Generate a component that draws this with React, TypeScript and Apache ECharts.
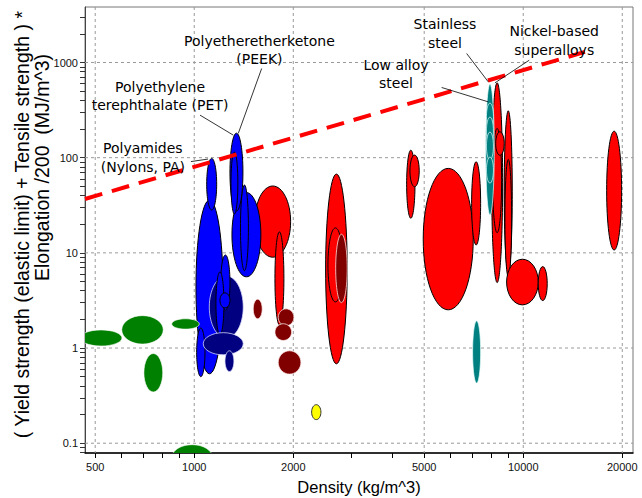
import React, { useEffect, useRef } from "react";
import * as echarts from "echarts";

// ---- Axis ranges and ticks (density kg/m^3, energy MJ/m^3) ----
const X_RANGE = [465.5, 21560];
const Y_RANGE = [0.0789, 3830];
const X_MAJOR = [500, 1000, 2000, 5000, 10000, 20000];
const X_MINOR = [600, 700, 800, 900, 3000, 4000, 6000, 7000, 8000, 9000];
const Y_MAJOR = [0.1, 1, 10, 100, 1000];
const Y_MINOR = [
  0.08, 0.09, 0.2, 0.3, 0.4, 0.5, 0.6, 0.7, 0.8, 0.9,
  2, 3, 4, 5, 6, 7, 8, 9, 20, 30, 40, 50, 60, 70, 80, 90,
  200, 300, 400, 500, 600, 700, 800, 900, 2000, 3000,
];

// ---- Material envelopes: [densityLo, densityHi, valueLo, valueHi] ----
const METALS_RED = [
  [1529, 1963, 9.0, 50.4],
  [1759, 1873, 1.75, 16.6],
  [2508, 2917, 0.683, 67.3],
  [2549, 2831, 3.05, 18.3],
  [4422, 4688, 23.1, 120],
  [4525, 4829, 49.5, 106.5],
  [4966, 7047, 2.52, 77.2],
  [6968, 7422, 12.1, 90.6],
  [8017, 8657, 4.87, 611],
  [8072, 8596, 16.3, 203],
  [8753, 9261, 6.35, 311],
  [8797, 9220, 5.63, 96],
  [8245, 8753, 106, 187],
  [8901, 11108, 2.84, 8.57],
  [11108, 11828, 3.15, 7.17],
  [17930, 19910, 10.7, 190],
];
const DARK_RED = [
  [1511, 1609, 2.03, 3.26],
  [1800, 2009, 1.71, 2.58],
  [1759, 1977, 1.2, 1.8],
  [1800, 2110, 0.532, 0.935],
  [2691, 2917, 3.0, 15.7],
];
const POLYMERS_BLUE = [
  [1012, 1223, 0.536, 35.9],
  [1091, 1170, 28.2, 98.3],
  [1017, 1078, 0.5, 1.62],
  [1302, 1594, 5.6, 43],
  [1382, 1461, 6.5, 51.6],
  [1284, 1406, 27.5, 181],
  [1293, 1357, 25.6, 114.5],
];
const NAVY_LARGE = [[1111, 1409, 1.27, 5.72]];
const POLYMERS_BLUE_SMALL = [
  [1204, 1284, 2.5, 9.5],
  [1164, 1231, 1.375, 6.3],
  [1197, 1284, 2.64, 3.8],
];
const NAVY_SMALL = [
  [1065, 1409, 0.848, 1.45],
  [1240, 1320, 0.567, 0.935],
];
const GREEN = [
  [450, 603, 1.05, 1.55],
  [602, 805, 1.1, 2.19],
  [854, 1036, 1.58, 2.03],
  [703, 802, 0.345, 0.876],
  [854, 1137, 0.0514, 0.0965],
];
const TEAL = [
  [7688, 8165, 25, 592],
  [7730, 8118, 195, 374],
  [7730, 8118, 135.6, 267],
  [7730, 8118, 94.4, 185.6],
  [7730, 8118, 54.1, 101.5],
  [7017, 7422, 0.428, 1.93],
];
const YELLOW = [[2274, 2427, 0.177, 0.254]];

// ---- Guideline (dashed red) ----
const TREND = [
  [465.4, 36.8],
  [15400, 1292],
];

// ---- Annotations: label anchor, leader from, leader to (data units) ----
const ANNOTATIONS = [
  { text: "Polyetheretherketone\n(PEEK)", pos: [1578, 1346], from: [1603, 865], to: [1361, 180] },
  { text: "Polyethylene\nterephthalate (PET)", pos: [787, 443], from: [1041, 280], to: [1314, 172.7] },
  { text: "Polyamides\n(Nylons, PA)", pos: [698, 100.2], from: [977, 91], to: [1101, 96.7] },
  { text: "Stainless\nsteel", pos: [5781, 2015], from: [6730, 1243], to: [7829, 626] },
  { text: "Nickel-based\nsuperalloys", pos: [12424, 1706], from: [10428, 1057], to: [8204, 611] },
  { text: "Low alloy\nsteel", pos: [4104, 757], from: [5649, 546.6], to: [7829, 386] },
];

const lg = (v: number) => Math.log10(v);

function clipRect(params: any) {
  const cs = params.coordSys;
  return { type: "rect", shape: { x: cs.x, y: cs.y, width: cs.width, height: cs.height } };
}

function ellipseSeries(list: number[][], fill: string, stroke: string, lw: number, z: number) {
  return {
    type: "custom",
    silent: true,
    z,
    clip: true,
    data: list.map((d) => [lg(Math.sqrt(d[0] * d[1])), lg(Math.sqrt(d[2] * d[3]))]),
    renderItem: (params: any, api: any) => {
      const d = list[params.dataIndex];
      const p1 = api.coord([lg(d[0]), lg(d[3])]);
      const p2 = api.coord([lg(d[1]), lg(d[2])]);
      return {
        type: "ellipse",
        shape: {
          cx: (p1[0] + p2[0]) / 2,
          cy: (p1[1] + p2[1]) / 2,
          rx: Math.abs(p2[0] - p1[0]) / 2,
          ry: Math.abs(p2[1] - p1[1]) / 2,
        },
        style: { fill, stroke, lineWidth: lw },
        clipPath: clipRect(params),
      };
    },
  };
}

export default function App() {
  const ref = useRef<HTMLDivElement>(null);
  useEffect(() => {
    if (!ref.current) return;
    const chart = echarts.init(ref.current, undefined, { renderer: "svg" });
    const tickFont = { fontFamily: "Liberation Sans", fontSize: 11, color: "#111" };
    const gridX = X_MAJOR.map((v) => [lg(v), lg(Y_RANGE[0])]);
    const gridY = Y_MAJOR.map((v) => [lg(X_RANGE[0]), lg(v)]);
    const gridLineStyle = { stroke: "#9a9a9a", lineWidth: 1, lineDash: [3, 3] };
    const titleStyle = {
      fontFamily: "Liberation Sans",
      fontSize: 19.5,
      fill: "#000",
      align: "right",
      verticalAlign: "middle",
      textAlign: "right",
      textVerticalAlign: "middle",
    };
    const option: any = {
      animation: false,
      grid: {
        left: 85,
        right: 9,
        top: 7,
        bottom: 45,
        show: true,
        borderColor: "#777",
        borderWidth: 1,
        containLabel: false,
        outerBoundsMode: "none",
      },
      xAxis: {
        type: "value",
        min: lg(X_RANGE[0]),
        max: lg(X_RANGE[1]),
        axisLine: { show: true, onZero: false, lineStyle: { color: "#000", width: 1.5 } },
        axisTick: {
          show: true,
          length: 5,
          customValues: [...X_MAJOR, ...X_MINOR].map(lg),
          lineStyle: { color: "#000" },
        },
        axisLabel: {
          ...tickFont,
          margin: 8,
          customValues: X_MAJOR.map(lg),
          formatter: (v: number) => String(Math.round(Math.pow(10, v))),
        },
        splitLine: { show: false },
        name: "Density (kg/m^3)",
        nameLocation: "middle",
        nameGap: 25,
        nameTextStyle: { fontFamily: "Liberation Sans", fontSize: 16.5, color: "#000" },
      },
      yAxis: {
        type: "value",
        min: lg(Y_RANGE[0]),
        max: lg(Y_RANGE[1]),
        axisLine: { show: true, onZero: false, lineStyle: { color: "#444", width: 1 } },
        axisTick: {
          show: true,
          length: 5,
          customValues: [...Y_MAJOR, ...Y_MINOR].map(lg),
          lineStyle: { color: "#333" },
        },
        axisLabel: {
          ...tickFont,
          margin: 7,
          customValues: Y_MAJOR.map(lg),
          formatter: (v: number) => {
            const val = Math.pow(10, v);
            return val < 1 ? val.toFixed(1) : String(Math.round(val));
          },
        },
        splitLine: { show: false },
      },
      graphic: [
        {
          type: "text",
          x: 22,
          y: 11,
          rotation: Math.PI / 2,
          style: { ...titleStyle, text: "( Yield strength (elastic limit) + Tensile strength ) *" },
        },
        {
          type: "text",
          x: 42,
          y: 54,
          rotation: Math.PI / 2,
          style: { ...titleStyle, text: "Elongation /200  (MJ/m^3)" },
        },
      ],
      series: [
        {
          type: "custom",
          silent: true,
          z: 1,
          data: gridX,
          renderItem: (params: any, api: any) => {
            const cs = params.coordSys;
            const p = api.coord(gridX[params.dataIndex]);
            return {
              type: "line",
              shape: { x1: p[0], y1: cs.y, x2: p[0], y2: cs.y + cs.height },
              style: gridLineStyle,
            };
          },
        },
        {
          type: "custom",
          silent: true,
          z: 1,
          data: gridY,
          renderItem: (params: any, api: any) => {
            const cs = params.coordSys;
            const p = api.coord(gridY[params.dataIndex]);
            return {
              type: "line",
              shape: { x1: cs.x, y1: p[1], x2: cs.x + cs.width, y2: p[1] },
              style: gridLineStyle,
            };
          },
        },
        ellipseSeries(METALS_RED, "#ff0000", "#000", 1, 2),
        ellipseSeries(DARK_RED, "#800000", "rgba(255,235,235,0.75)", 1, 3),
        ellipseSeries(POLYMERS_BLUE, "#0000ff", "#000", 1, 4),
        ellipseSeries(NAVY_LARGE, "#000080", "rgba(225,225,255,0.75)", 1, 5),
        ellipseSeries(POLYMERS_BLUE_SMALL, "#0000ff", "#000", 1, 6),
        ellipseSeries(NAVY_SMALL, "#000080", "rgba(225,225,255,0.75)", 1, 7),
        ellipseSeries(GREEN, "#008000", "rgba(255,255,255,0.6)", 1, 8),
        ellipseSeries(TEAL, "#008080", "rgba(235,255,255,0.7)", 1, 9),
        ellipseSeries(YELLOW, "#ffff00", "#333", 1, 10),
        {
          type: "line",
          silent: true,
          z: 20,
          data: TREND.map((p) => [lg(p[0]), lg(p[1])]),
          showSymbol: false,
          symbol: "none",
          lineStyle: { color: "#ff0000", width: 4, type: [18, 10] },
        },
        {
          type: "custom",
          silent: true,
          z: 21,
          data: ANNOTATIONS.map((a) => [lg(a.pos[0]), lg(a.pos[1])]),
          renderItem: (params: any, api: any) => {
            const a = ANNOTATIONS[params.dataIndex];
            const t = api.coord([lg(a.pos[0]), lg(a.pos[1])]);
            const f = api.coord([lg(a.from[0]), lg(a.from[1])]);
            const to = api.coord([lg(a.to[0]), lg(a.to[1])]);
            return {
              type: "group",
              children: [
                {
                  type: "line",
                  shape: { x1: f[0], y1: f[1], x2: to[0], y2: to[1] },
                  style: { stroke: "#000", lineWidth: 0.8 },
                },
                {
                  type: "text",
                  x: t[0],
                  y: t[1],
                  style: {
                    text: a.text,
                    fontFamily: "DejaVu Sans",
                    fontSize: 14,
                    lineHeight: 18.5,
                    fill: "#000",
                    align: "center",
                    verticalAlign: "middle",
                  },
                },
              ],
            };
          },
        },
      ],
    };
    chart.setOption(option);
    return () => chart.dispose();
  }, []);
  return (
    <div
      ref={ref}
      style={{ position: "fixed", left: 0, top: 0, width: 642, height: 498, background: "#fff" }}
    />
  );
}
